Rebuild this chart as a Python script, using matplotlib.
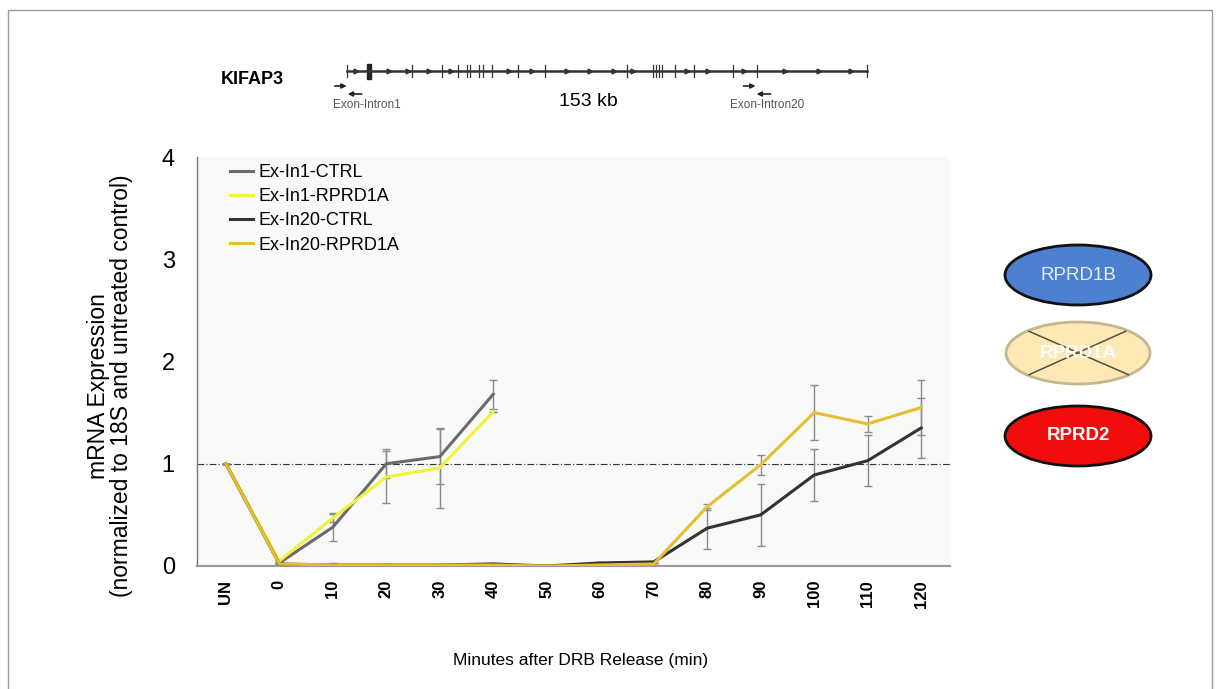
import numpy as np
import matplotlib
matplotlib.use("Agg")
import matplotlib.pyplot as plt
from matplotlib.patches import Ellipse, Rectangle

plt.rcParams['font.family'] = ['Liberation Sans', 'DejaVu Sans']

# ---------------- data ----------------
categories = ["UN", "0", "10", "20", "30", "40", "50", "60", "70", "80", "90", "100", "110", "120"]
nan = np.nan
in1_ctrl = [1.0, 0.03, 0.38, 1.00, 1.07, 1.68, nan, nan, nan, nan, nan, nan, nan, nan]
in1_ctrl_err = [0, 0.01, 0.14, 0.14, 0.27, 0.14, 0, 0, 0, 0, 0, 0, 0, 0]
in1_rprd1a = [1.0, 0.05, 0.47, 0.87, 0.96, 1.51, nan, nan, nan, nan, nan, nan, nan, nan]
in1_rprd1a_err = [0, 0.01, 0.04, 0.25, 0.39, 0.0, 0, 0, 0, 0, 0, 0, 0, 0]
in20_ctrl = [1.0, 0.02, 0.01, 0.01, 0.01, 0.02, 0.0, 0.03, 0.04, 0.37, 0.50, 0.89, 1.03, 1.35]
in20_ctrl_err = [0, 0.01, 0.02, 0.01, 0.01, 0.01, 0.01, 0.01, 0.01, 0.20, 0.30, 0.25, 0.25, 0.29]
in20_rprd1a = [1.0, 0.02, 0.01, 0.01, 0.01, 0.01, 0.0, 0.01, 0.02, 0.58, 0.99, 1.50, 1.39, 1.55]
in20_rprd1a_err = [0, 0.01, 0.01, 0.01, 0.01, 0.01, 0.01, 0.01, 0.01, 0.03, 0.10, 0.27, 0.08, 0.27]

series_labels = ["Ex-In1-CTRL", "Ex-In1-RPRD1A", "Ex-In20-CTRL", "Ex-In20-RPRD1A"]
series_colors = ["#6a6a6a", "#f2f23a", "#333333", "#e6be33"]

yticks = [0, 1, 2, 3, 4]

# gene diagram (KIFAP3, 153 kb)
gene_len_kb = 153
exon_kb = [19.1, 27.9, 32.8, 35.3, 36.3, 39.0, 40.0, 42.8, 50.5, 58.3,
           82.4, 90.0, 90.9, 91.8, 92.7, 96.5, 102.2, 113.6, 120.6]
big_exon_kb = 6.6
arrow_kb = [2.7, 12.5, 18.0, 24.3, 30.6, 47.8, 54.4, 64.9, 71.6, 78.7, 84.3,
            100.2, 106.4, 116.9, 129.0, 139.1, 148.3]
primer_kb = [0.0, 120.6]
primer_labels = ["Exon-Intron1", "Exon-Intron20"]

proteins = ["RPRD1B", "RPRD1A", "RPRD2"]

# ---------------- figure ----------------
W, H = 1220, 689
fig = plt.figure(figsize=(W / 100, H / 100), dpi=100)
fig.patch.set_facecolor("white")

ax = fig.add_axes([197 / W, 1 - 566 / H, (950 - 197) / W, (566 - 157) / H])
ax.set_facecolor("#f9f9f7")
x = np.arange(len(categories))

data = [(in1_ctrl, in1_ctrl_err), (in1_rprd1a, in1_rprd1a_err),
        (in20_ctrl, in20_ctrl_err), (in20_rprd1a, in20_rprd1a_err)]
for (vals, errs), lab, col in zip(data, series_labels, series_colors):
    vals = np.array(vals, dtype=float)
    errs = np.array(errs, dtype=float)
    ax.plot(x, vals, color=col, lw=2.2, label=lab, zorder=3)
    ax.errorbar(x, vals, yerr=errs, fmt='none', ecolor="#8a8a8a", elinewidth=1.0,
                capsize=3, capthick=1.0, zorder=2)

ax.axhline(1.0, color="#333333", lw=0.8, linestyle=(0, (6, 2, 1, 2)), zorder=1)

ax.set_xlim(-0.54, 13.54)
ax.set_ylim(0, 4)
ax.set_xticks(x)
ax.set_xticklabels(categories, rotation=90, fontsize=12, fontweight='bold')
ax.set_yticks(yticks)
ax.set_yticklabels([str(t) for t in yticks], fontsize=17)
ax.tick_params(axis='x', length=0, pad=10)
ax.tick_params(axis='y', length=0, pad=16)
for s in ["top", "right"]:
    ax.spines[s].set_visible(False)
ax.spines["left"].set_color("#777777")
ax.spines["bottom"].set_color("#9a9a9a")
ax.spines["left"].set_linewidth(1.0)
ax.spines["bottom"].set_linewidth(1.5)

fig.text(110 / W, 1 - 386 / H, "mRNA Expression\n(normalized to 18S and untreated control)",
         fontsize=16.5, rotation=90, ha='center', va='center', multialignment='center',
         linespacing=1.0)
fig.text(581 / W, 1 - 660 / H, "Minutes after DRB Release (min)", fontsize=12.5,
         ha='center', va='center')

leg = ax.legend(loc='upper left', bbox_to_anchor=(230 / W, 1 - 164 / H),
                bbox_transform=fig.transFigure, frameon=False, fontsize=13,
                handlelength=1.3, handletextpad=0.28, labelspacing=0.4,
                borderpad=0, borderaxespad=0)

# ---------------- overlay (pixel coords) ----------------
ov = fig.add_axes([0, 0, 1, 1], zorder=5)
ov.set_xlim(0, W)
ov.set_ylim(H, 0)
ov.axis('off')
ov.patch.set_alpha(0)

# frame
ov.add_patch(Rectangle((8, 10), 1204, 700, fill=False, ec="#9a9a9a", lw=1.0))

# gene
gx0, gx1, gy = 346.7, 866.7, 71
def kb2x(kb):
    return gx0 + (gx1 - gx0) * kb / gene_len_kb
ov.plot([gx0, gx1], [gy, gy], color="#333333", lw=1.8)
for e in [0, gene_len_kb] + exon_kb:
    ov.plot([kb2x(e), kb2x(e)], [gy - 6, gy + 6], color="#333333", lw=0.9)
ov.add_patch(Rectangle((kb2x(big_exon_kb) - 2, gy - 7), 4, 15, color="#222222"))
ov.plot([kb2x(a) for a in arrow_kb], [gy] * len(arrow_kb), linestyle='none',
        marker='>', markersize=3.5, color="#333333")
ov.text(252, 79, "KIFAP3", fontsize=13, fontweight='bold', ha='center', va='center')
ov.text(588, 101, "153 kb", fontsize=14, ha='center', va='center')
for pk, pl in zip(primer_kb, primer_labels):
    px = kb2x(pk)
    fx = px - 12 if pk == 0 else px - 13
    ov.annotate("", xy=(fx + 12, 86), xytext=(fx, 86),
                arrowprops=dict(arrowstyle='-|>', color="#222222", lw=1.2,
                                mutation_scale=7, shrinkA=0, shrinkB=0))
    ov.annotate("", xy=(fx + 13, 94), xytext=(fx + 27, 94),
                arrowprops=dict(arrowstyle='-|>', color="#222222", lw=1.2,
                                mutation_scale=7, shrinkA=0, shrinkB=0))
    ov.text(fx + 32 if pk == 0 else fx + 24, 105, pl, fontsize=8.5, color="#555555",
            ha='center', va='center')

# protein ellipses
cx = 1078
ov.add_patch(Ellipse((cx, 275), 146, 60, fc="#4d80cf", ec="#111111", lw=2))
ov.text(cx, 275, proteins[0], fontsize=13.5, color="#e6edf5", ha='center', va='center')
ov.add_patch(Ellipse((cx, 353), 144, 62, fc="#fde8b6", ec="#c4b68e", lw=2))
ov.text(cx, 354, proteins[1], fontsize=13.5, color="white", fontweight='bold',
        ha='center', va='center')
a, b = 72, 31
ov.plot([cx - 0.68 * a, cx + 0.7 * a], [353 - 0.7 * b, 353 + 0.7 * b], color="#55503a", lw=1.1)
ov.plot([cx - 0.68 * a, cx + 0.66 * a], [353 + 0.7 * b, 353 - 0.7 * b], color="#55503a", lw=1.1)
ov.add_patch(Ellipse((cx, 436), 146, 60, fc="#f20d0d", ec="#111111", lw=2))
ov.text(cx, 436, proteins[2], fontsize=13.5, color="white", fontweight='bold',
        ha='center', va='center')

fig.savefig("out.png", dpi=100)
